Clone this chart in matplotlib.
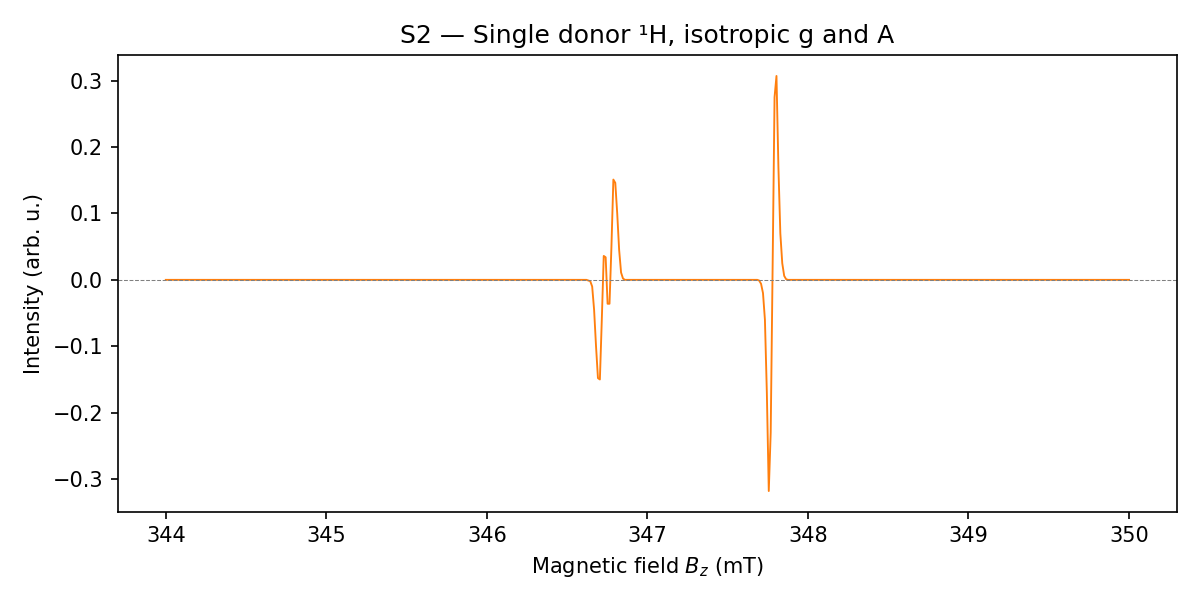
import matplotlib
matplotlib.use("Agg")
import matplotlib.pyplot as plt

# Magnetic field (mT) and intensity (arb. u.)
field_mT = [344.000,
            346.620, 346.632, 346.644, 346.656, 346.668, 346.680, 346.692, 346.704,
            346.716, 346.728, 346.740, 346.752, 346.764, 346.776, 346.788, 346.800,
            346.812, 346.824, 346.836, 346.848, 346.860, 346.872,
            347.684, 347.696, 347.708, 347.720, 347.732, 347.744, 347.756, 347.768,
            347.780, 347.792, 347.804, 347.816, 347.828, 347.840, 347.852, 347.864,
            347.876,
            350.000]
intensity = [0.0,
             0.0, -0.001, -0.002, -0.010, -0.045, -0.100, -0.148, -0.150,
             -0.060, 0.036, 0.034, -0.036, -0.036, 0.050, 0.151, 0.146,
             0.100, 0.045, 0.011, 0.002, 0.000, 0.0,
             0.0, -0.001, -0.006, -0.020, -0.060, -0.170, -0.318, -0.230,
             0.020, 0.275, 0.307, 0.170, 0.070, 0.025, 0.006, 0.001,
             0.0,
             0.0]

fig, ax = plt.subplots(figsize=(8, 4), dpi=150)
fig.subplots_adjust(left=0.098, right=0.981, top=0.908, bottom=0.147)

ax.plot(field_mT, intensity, color="#ff7f0e", linewidth=0.9)
ax.axhline(0, color="gray", linestyle="--", linewidth=0.5)

ax.set_title("S2 — Single donor ¹H, isotropic g and A")
ax.set_xlabel("Magnetic field $B_z$ (mT)")
ax.set_ylabel("Intensity (arb. u.)")

fig.savefig("out.png", dpi=150)
